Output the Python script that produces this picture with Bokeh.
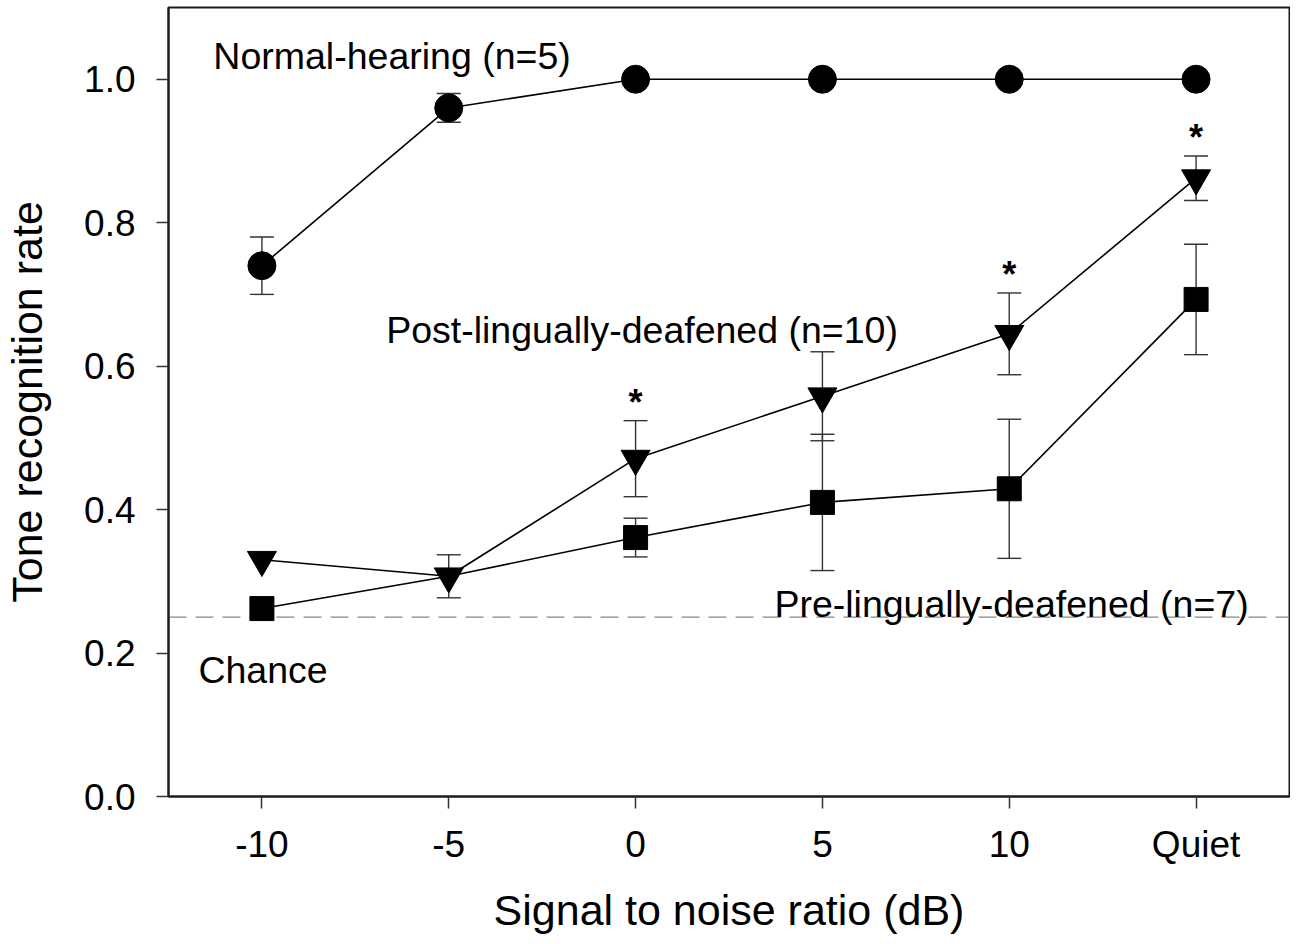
from bokeh.plotting import figure
from bokeh.models import Range1d, FixedTicker, Whisker, TeeHead, ColumnDataSource, Span, Label, PrintfTickFormatter
from bokeh.embed import file_html
from bokeh.resources import INLINE
from bokeh.core.properties import value

# ---- data ----
snr_labels = ["-10", "-5", "0", "5", "10", "Quiet"]
snr_pos = [0, 1, 2, 3, 4, 5]
normal_mean = [0.74, 0.96, 1.0, 1.0, 1.0, 1.0]
normal_err = [0.04, 0.02, 0.0, 0.0, 0.0, 0.0]
post_mean = [0.33, 0.307, 0.471, 0.558, 0.645, 0.862]
post_err = [0.0, 0.03, 0.053, 0.062, 0.057, 0.031]
pre_mean = [0.262, 0.307, 0.361, 0.41, 0.429, 0.693]
pre_err = [0.0, 0.0, 0.027, 0.095, 0.097, 0.077]
chance_level = 0.25
sig_idx = [2, 4, 5]
y_ticks = [0.0, 0.2, 0.4, 0.6, 0.8, 1.0]

FONT = "Liberation Sans"

p = figure(width=1290, height=938,
           x_range=Range1d(-0.5, 5.5), y_range=Range1d(0, 1.1),
           output_backend="svg", toolbar_location=None,
           min_border_left=166, min_border_right=1,
           min_border_top=7, min_border_bottom=142)
p.grid.visible = False
p.outline_line_color = "#1a1a1a"
p.outline_line_width = 2
p.background_fill_color = "white"
p.border_fill_color = "white"

for ax in (p.xaxis[0], p.yaxis[0]):
    ax.axis_line_color = "#1a1a1a"
    ax.axis_line_width = 2
    ax.major_tick_out = 12
    ax.major_tick_in = 0
    ax.minor_tick_out = 0
    ax.minor_tick_in = 0
    ax.major_tick_line_color = "#333333"
    ax.major_tick_line_width = 1.5
    ax.major_label_text_font = FONT
    ax.major_label_text_font_size = "37px"
    ax.major_label_text_color = "black"
    ax.axis_label_text_font = FONT
    ax.axis_label_text_font_size = "43px"
    ax.axis_label_text_font_style = "normal"
    ax.axis_label_text_color = "black"

p.xaxis.ticker = FixedTicker(ticks=snr_pos)
p.xaxis.major_label_overrides = {i: s for i, s in zip(snr_pos, snr_labels)}
p.xaxis.axis_label = "Signal to noise ratio (dB)"
p.xaxis.major_label_standoff = 15
p.xaxis.axis_label_standoff = 18

p.yaxis.ticker = FixedTicker(ticks=y_ticks)
p.yaxis.formatter = PrintfTickFormatter(format="%.1f")
p.yaxis.axis_label = "Tone recognition rate"
p.yaxis.major_label_standoff = 21
p.yaxis.axis_label_standoff = 30

# chance line
p.add_layout(Span(location=chance_level, dimension="width", line_color="#888888",
                  line_width=1.2, line_dash="18 9", level="underlay"))

# error bars
def add_whiskers(means, errs):
    xs, up, lo = [], [], []
    for x, m, e in zip(snr_pos, means, errs):
        if e > 0:
            xs.append(x); up.append(m + e); lo.append(m - e)
    src = ColumnDataSource(dict(x=xs, upper=up, lower=lo))
    w = Whisker(source=src, base="x", upper="upper", lower="lower",
                line_color="#333333", line_width=1.4, level="underlay",
                upper_head=TeeHead(size=24, line_color="#333333", line_width=1.4),
                lower_head=TeeHead(size=24, line_color="#333333", line_width=1.4))
    p.add_layout(w)

add_whiskers(normal_mean, normal_err)
add_whiskers(post_mean, post_err)
add_whiskers(pre_mean, pre_err)

# lines + markers (where the two deafened groups coincide, the triangle hides the square)
p.line(snr_pos, normal_mean, line_color="black", line_width=1.6)
p.line(snr_pos, post_mean, line_color="black", line_width=1.6)
p.line(snr_pos, pre_mean, line_color="black", line_width=1.6)
sq_x = [x for x, a, b in zip(snr_pos, pre_mean, post_mean) if abs(a - b) > 0.005]
sq_y = [a for a, b in zip(pre_mean, post_mean) if abs(a - b) > 0.005]
p.scatter(sq_x, sq_y, marker="square", size=24, fill_color="black", line_color="black")
p.scatter(snr_pos, post_mean, marker="inverted_triangle", size=29, fill_color="black", line_color="black")
p.scatter(snr_pos, normal_mean, marker="circle", size=28, fill_color="black", line_color="black")

# significance asterisks
p.text(x=[snr_pos[i] for i in sig_idx],
       y=[post_mean[i] + post_err[i] + 0.026 for i in sig_idx],
       text=["*"] * len(sig_idx),
       text_font=value(FONT), text_font_size=value("36px"), text_font_style="bold",
       text_align="center", text_baseline="alphabetic", text_color="black")

# group labels
labels = [("Normal-hearing (n=5)", -0.26, 1.032),
          ("Post-lingually-deafened (n=10)", 0.665, 0.651),
          ("Pre-lingually-deafened (n=7)", 2.743, 0.269),
          ("Chance", -0.34, 0.176)]
for t, lx, ly in labels:
    p.add_layout(Label(x=lx, y=ly, text=t, text_font=FONT, text_font_size="37.5px",
                       text_color="black", text_baseline="alphabetic", text_align="left"))

open("out.html", "w").write(file_html(p, INLINE))
